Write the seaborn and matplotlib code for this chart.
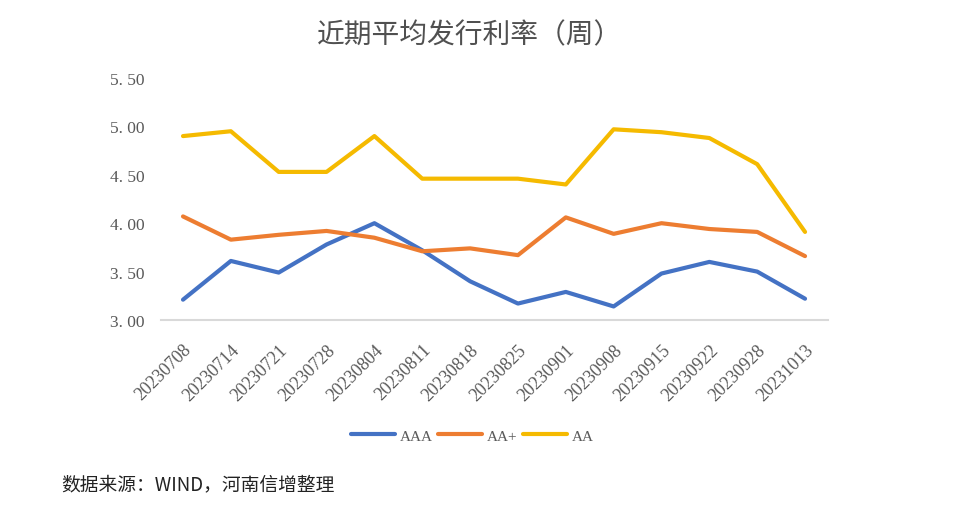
import matplotlib
matplotlib.use("Agg")
import matplotlib.pyplot as plt
import seaborn as sns
import pandas as pd

dates = ["20230708", "20230714", "20230721", "20230728", "20230804", "20230811", "20230818",
         "20230825", "20230901", "20230908", "20230915", "20230922", "20230928", "20231013"]
aaa = [3.21, 3.61, 3.49, 3.78, 4.00, 3.72, 3.40, 3.17, 3.29, 3.14, 3.48, 3.60, 3.50, 3.22]
aa_plus = [4.07, 3.83, 3.88, 3.92, 3.85, 3.71, 3.74, 3.67, 4.06, 3.89, 4.00, 3.94, 3.91, 3.66]
aa = [4.90, 4.95, 4.53, 4.53, 4.90, 4.46, 4.46, 4.46, 4.40, 4.97, 4.94, 4.88, 4.61, 3.91]
series_names = ["AAA", "AA+", "AA"]
colors = ["#4472C4", "#ED7D31", "#F5BA00"]
yticks = [3.00, 3.50, 4.00, 4.50, 5.00, 5.50]

sns.set_theme(style="white")
plt.rcParams['font.family'] = ['Liberation Serif', 'Noto Sans CJK SC', 'DejaVu Sans']

rows = []
for name, vals in zip(series_names, [aaa, aa_plus, aa]):
    for i, (d, v) in enumerate(zip(dates, vals)):
        rows.append({"idx": i, "date": d, "series": name, "value": v})
df = pd.DataFrame(rows)

fig = plt.figure(figsize=(9.72, 5.10), dpi=100)
ax = fig.add_axes([161 / 972, 1 - 321 / 510, (828 - 161) / 972, (321 - 79) / 510])
sns.lineplot(data=df, x="idx", y="value", hue="series", hue_order=series_names,
             palette=colors, linewidth=3.0, ax=ax, legend=True)

ax.set_xlim(-0.46, 13.48)
ax.set_ylim(3.0, 5.5)
ax.set_yticks(yticks)
ax.set_yticklabels([f"{t:.2f}".replace(".", ". ") for t in yticks], color="#595959", fontsize=12.5)
ax.set_xticks(range(len(dates)))
ax.set_xticklabels(dates, rotation=45, ha="right", rotation_mode="anchor", color="#595959", fontsize=13)
ax.tick_params(axis="y", length=0, pad=12)
ax.tick_params(axis="x", length=0, pad=15)
ax.set_xlabel("")
ax.set_ylabel("")
for s in ["top", "right", "left"]:
    ax.spines[s].set_visible(False)
ax.spines["bottom"].set_color("#D9D9D9")
ax.spines["bottom"].set_linewidth(1.5)
ax.grid(False)

handles, labels = ax.get_legend_handles_labels()
ax.legend(handles, labels, loc="center", bbox_to_anchor=(472 / 972, 1 - 437 / 510),
          bbox_transform=fig.transFigure, ncol=3, frameon=False, fontsize=11,
          handlelength=2.9, handletextpad=0.3, columnspacing=0.35, labelcolor="#595959")

fig.text(470 / 972, 1 - 35 / 510, "近期平均发行利率（周）", ha="center", va="center",
         fontsize=20, color="#505050", family=['Noto Sans CJK SC', 'DejaVu Sans'])
fig.text(61 / 972, 1 - 485 / 510, "数据来源：WIND，河南信增整理", ha="left", va="center",
         fontsize=13.5, color="#222222", family=['Noto Sans CJK SC', 'DejaVu Sans'])

fig.savefig("out.png", dpi=100)
